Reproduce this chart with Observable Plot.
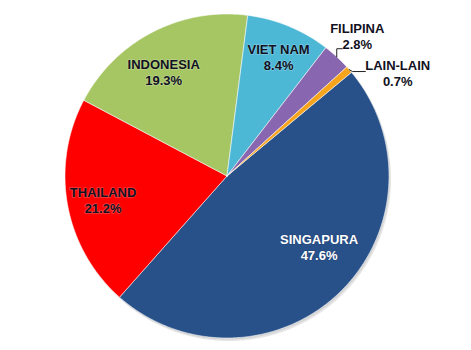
<!DOCTYPE html>
<html>
<head>
<meta charset="utf-8">
<script src="https://cdn.jsdelivr.net/npm/d3@7"></script>
<script src="https://cdn.jsdelivr.net/npm/@observablehq/plot@0.6"></script>
<style>
  html, body { margin: 0; padding: 0; background: #fff; }
  #chart svg { display: block; }
</style>
</head>
<body>
<div id="chart"></div>
<script>
// ---- data ----
const names  = ["SINGAPURA", "THAILAND", "INDONESIA", "VIET NAM", "FILIPINA", "LAIN-LAIN"];
const shares = [47.6, 21.2, 19.3, 8.4, 2.8, 0.7];
const pctLabels = ["47.6%", "21.2%", "19.3%", "8.4%", "2.8%", "0.7%"];
const colors = ["#28518a", "#ff0000", "#a6c664", "#4db8d6", "#8867b0", "#f7a41d"];

// ---- layout ----
const W = 471, H = 350;
const cx = 226.5, cy = 175.5, R = 162;
const startDeg = 50.2;
const toRad = Math.PI / 180;

const pie = d3.pie().sort(null).value(d => d.v)
  .startAngle(startDeg * toRad).endAngle((startDeg + 360) * toRad);
const arcs = pie(names.map((n, i) => ({name: n, v: shares[i], pct: pctLabels[i], i})));

// polygon outline of each slice, in unit-circle coordinates
const pt = (a, r) => ({x: r * Math.sin(a), y: r * Math.cos(a)});
const slicePts = [];
for (const a of arcs) {
  const n = Math.max(2, Math.ceil((a.endAngle - a.startAngle) / (0.5 * toRad)));
  slicePts.push({name: a.data.name, ...pt(0, 0)});
  for (let k = 0; k <= n; k++) {
    const t = a.startAngle + (a.endAngle - a.startAngle) * k / n;
    slicePts.push({name: a.data.name, ...pt(t, 1)});
  }
  slicePts.push({name: a.data.name, ...pt(0, 0)});
}
const circlePts = d3.range(0, 361, 1).map(d => ({name: "shadow", ...pt(d * toRad, 1)}));

// label placement: radius factor and angle shift (deg) per slice
const place = {
  "SINGAPURA": {r: 0.72, da: -8},
  "THAILAND":  {r: 0.78, da: -1},
  "INDONESIA": {r: 0.75, da: -4},
  "VIET NAM":  {r: 0.80, da: 1},
  "FILIPINA":  {r: 1.18, da: 0.3},
  "LAIN-LAIN": {r: 1.23, da: 10}
};
const labels = arcs.map(a => {
  const mid = (a.startAngle + a.endAngle) / 2;
  const p = place[a.data.name];
  return {name: a.data.name, pct: a.data.pct, ...pt(mid + p.da * toRad, p.r),
          white: a.data.name === "SINGAPURA"};
});

// leader lines for the outside labels
const leaders = [];
for (const a of arcs) {
  const mid = (a.startAngle + a.endAngle) / 2;
  const s = pt(mid, 1.0);
  if (a.data.name === "FILIPINA") {
    leaders.push({name: a.data.name, ...s});
    leaders.push({name: a.data.name, x: s.x, y: s.y + 0.05});
    leaders.push({name: a.data.name, x: s.x + 0.035, y: s.y + 0.05});
  } else if (a.data.name === "LAIN-LAIN") {
    leaders.push({name: a.data.name, ...s});
    leaders.push({name: a.data.name, x: s.x + 0.02, y: s.y - 0.012});
    leaders.push({name: a.data.name, x: s.x + 0.1, y: s.y - 0.012});
  }
}

const font = "'Liberation Sans', Arial, sans-serif";

const chart = Plot.plot({
  width: W, height: H,
  margin: 0,
  x: {domain: [-1, 1], range: [cx - R, cx + R], axis: null},
  y: {domain: [-1, 1], range: [cy + R, cy - R], axis: null},
  color: {domain: names, range: colors},
  style: {background: "#fff", fontFamily: font},
  marks: [
    // soft drop shadow
    Plot.line(circlePts, {x: "x", y: "y", fill: "#000", fillOpacity: 0.10, stroke: "none", dx: 2, dy: 3, curve: "linear-closed"}),
    Plot.line(circlePts, {x: "x", y: "y", fill: "#000", fillOpacity: 0.08, stroke: "none", dx: 1, dy: 1.5, curve: "linear-closed"}),
    // slices
    Plot.line(slicePts, {x: "x", y: "y", z: "name", fill: "name", stroke: "#ffffff", strokeOpacity: 0.55, strokeWidth: 1, strokeLinejoin: "round", curve: "linear-closed"}),
    // leaders
    Plot.line(leaders, {x: "x", y: "y", z: "name", stroke: "#222", strokeWidth: 1}),
    // labels: name line and pct line
    Plot.text(labels, {x: "x", y: "y", text: "name", dy: -7.5, fontSize: 13, fontWeight: "bold",
      fill: d => d.white ? "#ffffff" : "#111122", stroke: d => d.white ? "#1a2f50" : "#ffffff",
      strokeOpacity: 0.25, strokeWidth: 1.5, textAnchor: "middle"}),
    Plot.text(labels, {x: "x", y: "y", text: "pct", dy: 8.5, fontSize: 13, fontWeight: "bold",
      fill: d => d.white ? "#ffffff" : "#111122", stroke: d => d.white ? "#1a2f50" : "#ffffff",
      strokeOpacity: 0.25, strokeWidth: 1.5, textAnchor: "middle"})
  ]
});
document.getElementById("chart").appendChild(chart);
</script>
</body>
</html>
